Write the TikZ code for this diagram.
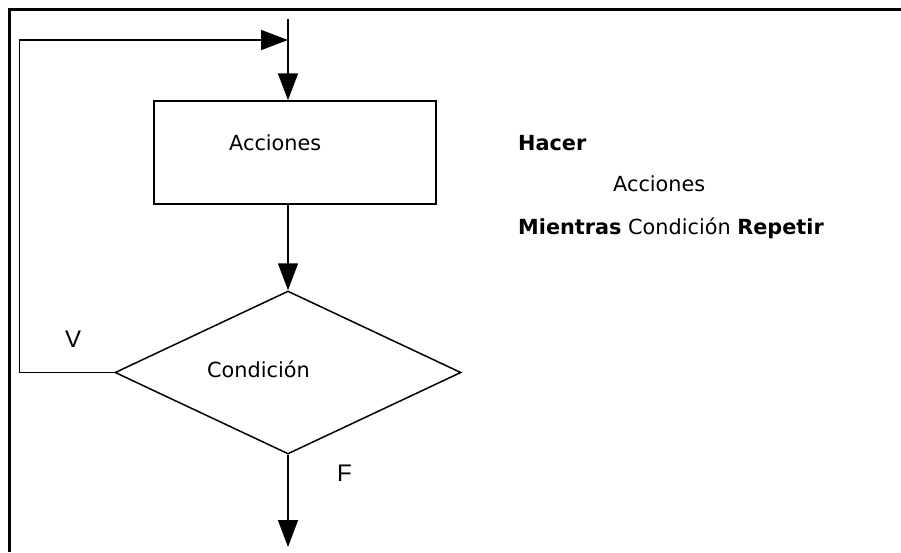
\documentclass[tikz,border=0pt]{standalone}
\usepackage{fontspec}
\setmainfont{DejaVu Sans}
\newfontfamily\arialf{Liberation Sans}
\usetikzlibrary{arrows.meta,shapes.geometric}
\begin{document}
\begin{tikzpicture}[x=1pt,y=-1pt,
  line/.style={line width=1.5pt},
  arr/.style={line, -{Triangle[length=27pt,width=20pt]}},
  txt/.style={inner sep=0pt, anchor=base west, font=\fontsize{20.8}{24}\selectfont},
  vf/.style={inner sep=0pt, anchor=base west, font=\arialf\fontsize{24}{28}\selectfont},
  procbox/.style={draw, line, rectangle, minimum width=282pt, minimum height=103pt, inner sep=0pt},
  decision/.style={draw, line, diamond, minimum width=346pt, minimum height=163pt, inner sep=0pt}
]
\useasboundingbox (0,0) rectangle (901,552);
% frame
\draw[line width=3pt] (9,552) -- (9,9) -- (901,9);

\coordinate (top) at (288,19);
\coordinate (join) at (288,40);
\coordinate (endp) at (288,547);
\node[procbox] (acc) at (295,152.5) {};
\node[decision] (dia) at (288,372.5) {};

\node[txt] (accT) at (229,150.7) {Acciones};
\node[txt] (condT) at (207,377.3) {Condición};
\node[vf] (V) at (65,347.7) {V};
\node[vf] (F) at (337,481.7) {F};

\draw[arr] (top) -- (top |- acc.north);
\draw[arr] (acc.south -| dia.north) -- (dia.north);
\draw[arr] (dia.west) -- ++(-95,0) |- (join);
\draw[arr] (dia.south) -- (endp);

\node[txt] (h1) at (518,150.7) {\textbf{Hacer}};
\node[txt] (h2) at (613,191.7) {Acciones};
\node[txt] (h3) at (518,234) {\textbf{Mientras} Condición \textbf{Repetir}};
\end{tikzpicture}
\end{document}
